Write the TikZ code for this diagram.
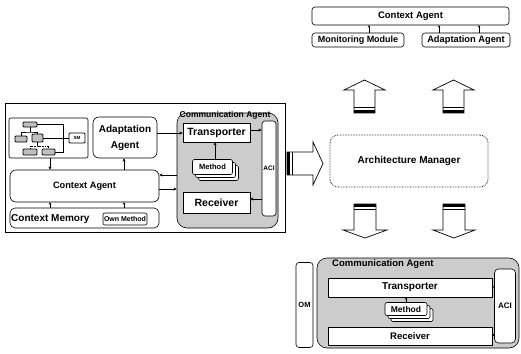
\documentclass[tikz,border=0pt]{standalone}
\usepackage{fontspec}
\setmainfont{Liberation Sans}
\usetikzlibrary{arrows.meta}
% bold sans text of a given size
\newcommand\fsz[1]{\fontsize{#1}{#1}\selectfont\bfseries}

\tikzset{
  ln/.style={line width=0.6pt, draw=black},
  bx/.style={ln, fill=white, rectangle, inner sep=0pt, align=center},
  rbx/.style={bx, rounded corners=#1},
  rbx/.default=5pt,
  sz/.style 2 args={minimum width=#1pt, minimum height=#2pt},
  tn/.style={draw=black, line width=0.8pt, fill=black!25, rounded corners=1pt, inner sep=0pt},
  ar/.style={line width=0.6pt, -{Stealth[length=3.2pt,width=3.2pt]}},
  tiny ar/.style={line width=0.6pt, -{Stealth[length=2.2pt,width=2.6pt]}},
  shaded/.style={fill=black!20},
  bigarrow/.style={draw=black, line width=0.7pt, fill=white, line join=miter},
}

\begin{document}
\begin{tikzpicture}[x=1pt,y=-1pt]
\useasboundingbox[fill=white] (0,0) rectangle (521,353);

% ---------- left: agent internals ----------
\node[bx, sz={280}{129}, line width=0.5pt] (outer) at (145,167.5) {};

% tree of modules with SM
\node[rbx=2pt, sz={79}{40}] (tree) at (48.5,138) {};
\node[tn, sz={14}{5}] (t0) at (30,124.5) {};
\node[tn, sz={12}{6}] (t1) at (21,139) {};
\node[tn, sz={11}{8}] (t2) at (37.5,138) {};
\node[tn, sz={14}{6}] (t3) at (30,152) {};
\node[tn, sz={13}{6}] (t4) at (48.5,152) {};
\node[tn, fill=white, sz={16}{10}, font=\fsz{4.5}] (sm) at (77,138) {SM};
\coordinate (tj) at (30,132);
\coordinate (tk) at (37.5,146);
\draw[ln] (t0.south) -- (tj);
\draw[ln] (t1.north) |- (tj) -| (t2.north);
\draw[ln] (t2.south) -- (tk);
\draw[ln, densely dotted] (t3.north) |- (tk) -| (t4.north);
\draw[ln] (t0.east) -- ++(26,0) |- (t4.east);
\draw[ln] (t2.east) -- (sm.west);

\node[rbx=6pt, sz={64}{41}, font=\fsz{10}] (adapt) at (125,137.5) {Adaptation\\[6pt]Agent};
\node[rbx=6pt, sz={149}{32}, font=\fsz{9.2}] (ctx) at (84.5,186) {Context Agent};
\node[rbx=5pt, sz={149}{20}] (mem) at (84.5,218) {};
\node[font=\fsz{10}, anchor=west, inner sep=0pt] (memlbl) at (11,219) {Context Memory};
\node[rbx=2pt, sz={44}{12}, font=\fsz{7}] (own) at (125,219) {Own Method};

% communication agent
\node[rbx=10pt, sz={101}{115}, shaded] (comm) at (227.5,170.5) {};
\node[font=\fsz{8.5}, inner sep=0pt] (commlbl) at (225,115.5) {Communication Agent};
\node[bx, sz={67}{19}, font=\fsz{10.5}] (trans) at (216.5,132.5) {Transporter};
\node[rbx=2pt, sz={40}{15}] (m3) at (218.5,173) {};
\node[rbx=2pt, sz={40}{15}] (m2) at (215.5,170) {};
\node[rbx=2pt, sz={40}{15}, font=\fsz{7.5}] (m1) at (212.5,167) {Method};
\node[bx, sz={67}{21}, font=\fsz{10.5}] (recv) at (216.5,203) {Receiver};
\node[rbx=3pt, sz={14}{95}, font=\fsz{6.5}] (aci) at (269,168.5) {ACI};

\coordinate (xa) at (50,0);
\coordinate (xb) at (124,0);
\coordinate (xc) at (215,0);
\coordinate (ya) at (0,133);
\coordinate (yb) at (0,175);
\coordinate (yc) at (0,189);
\coordinate (yd) at (0,130);
\coordinate (ye) at (0,199);
\draw[ar] (xa |- tree.south) -- (xa |- ctx.north);
\draw[ar] (xb |- ctx.north) -- (xb |- adapt.south);
\draw[tiny ar] (xa |- mem.north) -- (xa |- ctx.south);
\draw[tiny ar] (xb |- mem.north) -- (xb |- ctx.south);
\draw[ar] (adapt.east |- ya) -- (trans.west |- ya);
\draw[ar] (comm.west |- yb) -- (ctx.east |- yb);
\draw[ar] (ctx.east |- yc) -- (comm.west |- yc);
\draw[ar] (xc |- m1.north) -- (xc |- trans.south);
\draw[ar] (trans.east |- yd) -- (aci.west |- yd);
\draw[ar] (aci.west |- ye) -- (recv.east |- ye);

% ---------- right top: context agent ----------
\node[rbx=3pt, sz={197}{18}, font=\fsz{9.5}] (tca) at (410.5,16) {Context Agent};
\node[rbx=3pt, sz={92}{14}, font=\fsz{9}] (mon) at (358,40) {Monitoring Module};
\node[rbx=3pt, sz={88}{14}, font=\fsz{9.3}] (ada) at (466,40) {Adaptation Agent};
\coordinate (xd) at (369,0);
\coordinate (xe) at (439,0);
\coordinate (xf) at (479,0);
\draw[tiny ar] (xd |- mon.north) -- (xd |- tca.south);
\draw[tiny ar] (xe |- ada.north) -- (xe |- tca.south);
\draw[tiny ar] (xf |- ada.north) -- (xf |- tca.south);

% ---------- architecture manager ----------
\node[rbx=8pt, sz={158}{52}, font=\fsz{10}, densely dotted, line width=0.8pt] (am) at (409,161) {Architecture Manager};

% hollow block arrows
\draw[bigarrow] (354,113) -- (354,90) -- (344,90) -- (364.5,80) -- (385,90) -- (375,90) -- (375,113) -- cycle;
\fill (354,110) rectangle (375,113);
\draw[line width=0.6pt] (354,107.5) -- (375,107.5);
\draw[bigarrow] (443,113) -- (443,90) -- (433,90) -- (453.5,80) -- (474,90) -- (464,90) -- (464,113) -- cycle;
\fill (443,110) rectangle (464,113);
\draw[line width=0.6pt] (443,107.5) -- (464,107.5);

\draw[bigarrow] (354,204) -- (354,230) -- (343,230) -- (365,238) -- (387,230) -- (376,230) -- (376,204) -- cycle;
\fill (354,204) rectangle (376,206.5);
\draw[line width=0.7pt] (354,209) -- (376,209);
\draw[bigarrow] (443,204) -- (443,230) -- (433,230) -- (454,238) -- (475,230) -- (465,230) -- (465,204) -- cycle;
\fill (443,204) rectangle (465,206.5);
\draw[line width=0.7pt] (443,209) -- (465,209);

\draw[bigarrow] (287,152) -- (313,152) -- (313,142) -- (323,163.5) -- (313,185) -- (313,175) -- (287,175) -- cycle;
\fill (287,152) rectangle (289.5,175);
\draw[line width=0.7pt] (292,152) -- (292,175);

% ---------- bottom: communication agent ----------
\node[rbx=3pt, sz={17}{85}, font=\fsz{7.5}] (om) at (304.5,305) {OM};
\node[rbx=10pt, sz={202}{90}, shaded] (comm2) at (418,303) {};
\node[font=\fsz{9.5}, anchor=west, inner sep=0pt] (comm2lbl) at (332,264) {Communication Agent};
\node[bx, sz={164}{19}, font=\fsz{10}] (trans2) at (410,287.5) {Transporter};
\node[rbx=2pt, sz={42}{13}] (n3) at (412,315) {};
\node[rbx=2pt, sz={42}{13}] (n2) at (409,312) {};
\node[rbx=2pt, sz={42}{13}, font=\fsz{8.5}] (n1) at (406,309) {Method};
\node[bx, sz={164}{18}, font=\fsz{9.5}] (recv2) at (410,336) {Receiver};
\node[rbx=4pt, sz={21}{74}, font=\fsz{8}] (aci2) at (505,306) {ACI};

\coordinate (xg) at (406,0);
\coordinate (yf) at (0,287);
\coordinate (yg) at (0,335);
\draw[tiny ar] (xg |- n1.north) -- (xg |- trans2.south);
\draw[tiny ar] (trans2.east |- yf) -- (aci2.west |- yf);
\draw[tiny ar] (aci2.west |- yg) -- (recv2.east |- yg);
\end{tikzpicture}
\end{document}
